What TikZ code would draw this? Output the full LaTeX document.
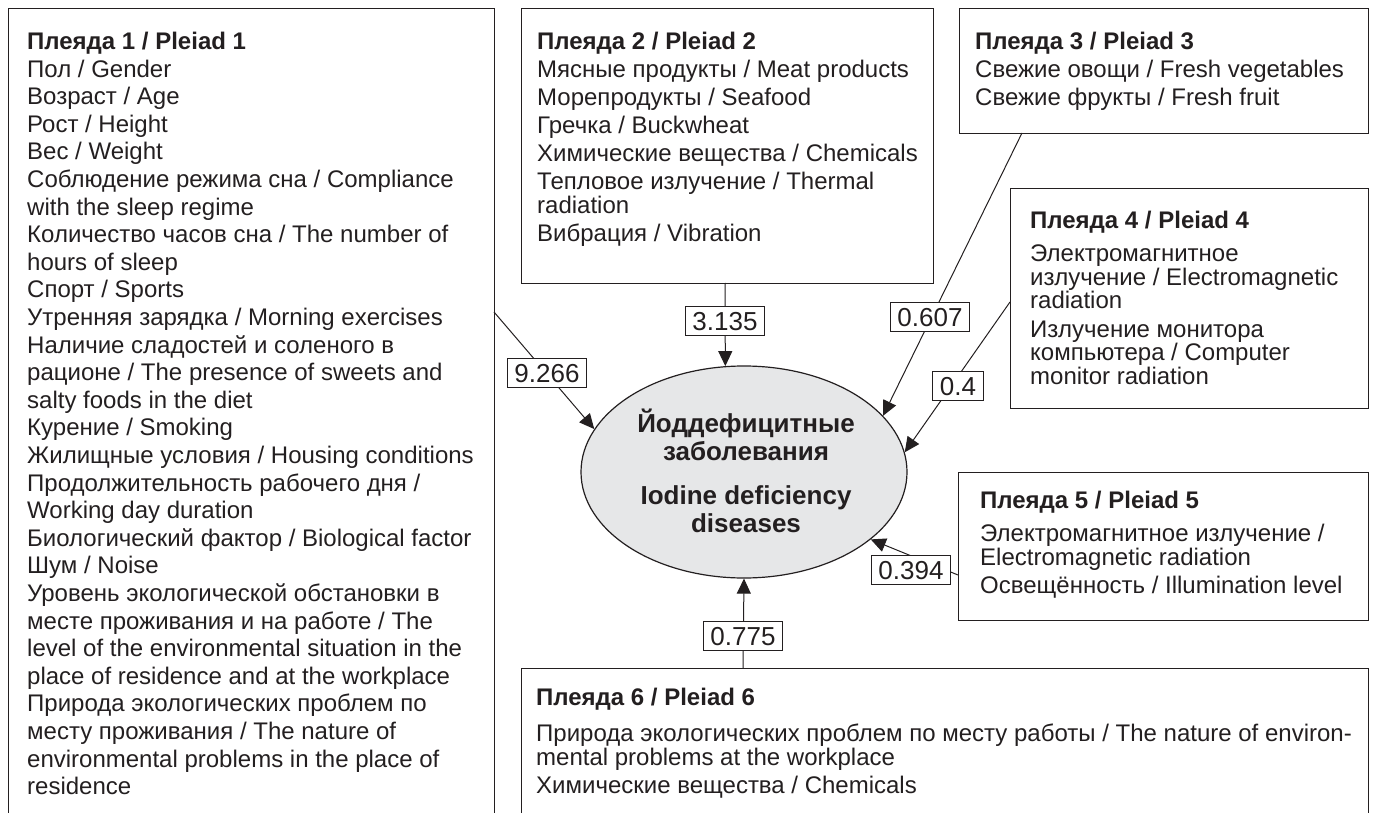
\documentclass[tikz,border=0pt]{standalone}
\usepackage{fontspec}
\setmainfont{Liberation Sans}
\usetikzlibrary{arrows.meta,shapes.geometric}
\definecolor{ink}{HTML}{231F20}
\definecolor{ellfill}{HTML}{E6E7E8}
\begin{document}
\begin{tikzpicture}[x=1pt,y=1pt,
  pbox/.style={draw=ink, line width=1.1pt, inner sep=0pt, anchor=north west},
  ptext/.style={anchor=north west, inner sep=0pt, align=left, text=ink,
    font=\fontsize{24}{23.5}\selectfont},
  wlabel/.style={draw=ink, fill=white, line width=0.9pt, text=ink,
    font=\fontsize{26}{26}\selectfont, inner xsep=7pt, inner ysep=5pt,
    text height=18.6pt, text depth=0pt},
  conn/.style={line width=1pt, draw=ink, -{Triangle[length=15pt,width=14pt]}},
  ctr/.style={ellipse, draw=ink, line width=1.2pt, fill=ellfill,
    minimum width=326pt, minimum height=212pt, inner sep=0pt},
  ctrtext/.style={align=center, text=ink, font=\bfseries\fontsize{26}{28}\selectfont}
]
\useasboundingbox (0,0) rectangle (1373,-813);
\clip (0,0) rectangle (1373,-813);

% boxes
\node[pbox, minimum width=486pt, minimum height=840pt] (b1) at (8,-8) {};
\node[pbox, minimum width=412pt, minimum height=275pt] (b2) at (521,-8) {};
\node[pbox, minimum width=409pt, minimum height=125pt] (b3) at (959,-8) {};
\node[pbox, minimum width=358pt, minimum height=220pt] (b4) at (1010,-188) {};
\node[pbox, minimum width=410pt, minimum height=148pt] (b5) at (958,-472) {};
\node[pbox, minimum width=847pt, minimum height=200pt] (b6) at (521,-668) {};

% box texts
\node[ptext, font=\fontsize{24}{27.6}\selectfont] (t1) at (27,-32) {\textbf{Плеяда 1 / Pleiad 1}\\
Пол / Gender\\
Возраст / Age\\
Рост / Height\\
Вес / Weight\\
Соблюдение режима сна / Compliance\\
with the sleep regime\\
Количество часов сна / The number of\\
hours of sleep\\
Спорт / Sports\\
Утренняя зарядка / Morning exercises\\
Наличие сладостей и соленого в\\
рационе / The presence of sweets and\\
salty foods in the diet\\
Курение / Smoking\\
Жилищные условия / Housing conditions\\
Продолжительность рабочего дня /\\
Working day duration\\
Биологический фактор / Biological factor\\
Шум / Noise\\
Уровень экологической обстановки в\\
месте проживания и на работе / The\\
level of the environmental situation in the\\
place of residence and at the workplace\\
Природа экологических проблем по\\
месту проживания / The nature of\\
environmental problems in the place of\\
residence};

\node[ptext] (t2) at (537,-32) {\textbf{Плеяда 2 / Pleiad 2}\\[4.5pt]
Мясные продукты / Meat products\\[4.5pt]
Морепродукты / Seafood\\[4.5pt]
Гречка / Buckwheat\\[4.5pt]
Химические вещества / Chemicals\\[4.5pt]
Тепловое излучение / Thermal\\
radiation\\[4.5pt]
Вибрация / Vibration};

\node[ptext] (t3) at (975,-32) {\textbf{Плеяда 3 / Pleiad 3}\\[4.5pt]
Свежие овощи / Fresh vegetables\\[4.5pt]
Свежие фрукты / Fresh fruit};

\node[ptext] (t4) at (1030,-210.5) {\textbf{Плеяда 4 / Pleiad 4}\\[10pt]
Электромагнитное\\
излучение / Electromagnetic\\
radiation\\[5pt]
Излучение монитора\\
компьютера / Computer\\
monitor radiation};

\node[ptext] (t5) at (980,-490.5) {\textbf{Плеяда 5 / Pleiad 5}\\[10pt]
Электромагнитное излучение /\\
Electromagnetic radiation\\[5pt]
Освещённость / Illumination level};

\node[ptext] (t6) at (536,-687.5) {\textbf{Плеяда 6 / Pleiad 6}\\[13pt]
Природа экологических проблем по месту работы / The nature of environ-\\
mental problems at the workplace\\[5pt]
Химические вещества / Chemicals};

% centre
\node[ctr] (ell) at (744,-472) {};
\node[ctrtext] (ctxt) at (746,-471) {Йоддефицитные\\заболевания\\[16pt]Iodine deficiency\\diseases};

% connector end points
\coordinate (s1) at (494,-312);
\coordinate (s2) at (725,-283);
\coordinate (s3) at (1022,-133);
\coordinate (s4) at (1010,-302);
\coordinate (s5) at (958,-575);
\coordinate (s6) at (743,-668);

\draw[conn] (s1) -- (ell.164);
\draw[conn] (s2) -- (ell.100.3);
\draw[conn] (s3) -- (ell.22.4);
\draw[conn] (s4) -- (ell.7);
\draw[conn] (s5) -- (ell.-28);
\draw[conn] (s6) -- (ell.-90);

% weight labels
\node[wlabel] (l1) at (547,-373) {9.266};
\node[wlabel] (l2) at (725,-321) {3.135};
\node[wlabel] (l3) at (930,-317) {0.607};
\node[wlabel] (l4) at (958,-386) {0.4};
\node[wlabel] (l5) at (911,-570) {0.394};
\node[wlabel] (l6) at (743,-636) {0.775};
\end{tikzpicture}
\end{document}
